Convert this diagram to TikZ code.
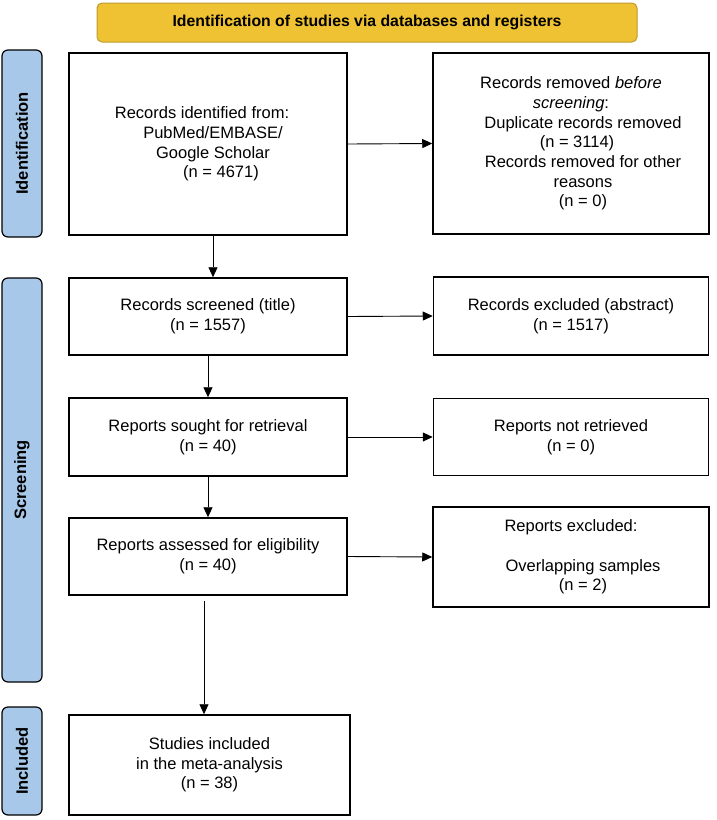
\documentclass[tikz,border=0pt]{standalone}
\usepackage{fontspec}
\setmainfont{Liberation Sans}
\usetikzlibrary{arrows.meta}
\definecolor{headgold}{RGB}{239,194,51}
\definecolor{headedge}{RGB}{190,155,45}
\definecolor{phaseblue}{RGB}{168,200,233}

\begin{document}
\begin{tikzpicture}[x=1pt,y=-1pt,
	box/.style={draw,line width=1.5pt,align=center,inner sep=0pt,font=\fontsize{16.5}{19.7}\selectfont},
	phase/.style={draw,fill=phaseblue,line width=1.2pt,rounded corners=6pt,minimum height=40pt,inner sep=0pt,font=\bfseries\fontsize{16.5}{18}\selectfont,rotate=90},
	arr/.style={-{Triangle[length=10pt,width=9pt]},line width=0.9pt}]
	
	\useasboundingbox (0,0) rectangle (717,820);
	
	% header and phases
	\node[draw=headedge,fill=headgold,line width=1pt,rounded corners=5pt,minimum width=540pt,minimum height=39pt,font=\bfseries\fontsize{15.8}{18}\selectfont] (head) at (367,22.5) {Identification of studies via databases and registers};
	
	\node[phase,minimum width=187pt] (ident) at (22,143.5) {Identification};
	\node[phase,minimum width=404pt] (screen) at (22,480) {Screening};
	\node[phase,minimum width=108pt] (incl) at (22,761) {Included};
	
	% left column
	\node[box,minimum width=278pt,minimum height=182pt] (records) at (208,144) {Records identified from:\hspace*{12pt}\\ \hspace*{10pt}PubMed/EMBASE/\\ \hspace*{10pt}Google Scholar\\ \hspace*{26pt}(n = 4671)};
	\node[box,minimum width=278pt,minimum height=77pt] (screened) at (208,316.5) {Records screened (title)\\ (n = 1557)};
	\node[box,minimum width=278pt,minimum height=78pt] (sought) at (208,437) {Reports sought for retrieval\\ (n = 40)};
	\node[box,minimum width=278pt,minimum height=77pt] (assessed) at (208,556.5) {Reports assessed for eligibility\\ (n = 40)};
	\node[box,minimum width=281pt,minimum height=100pt] (included) at (209.5,765) {Studies included\\ in the meta-analysis\\ (n = 38)};
	
	% right column
	\node[box,minimum width=276pt,minimum height=181pt] (removed) at (571,143.5) {Records removed \textit{before}\\ \textit{screening}:\\ \hspace*{24pt}Duplicate records removed\\ \hspace*{12pt}(n = 3114)\\ \hspace*{24pt}Records removed for other\\ \hspace*{24pt}reasons\\ \hspace*{24pt}(n = 0)};
	\node[box,minimum width=275pt,minimum height=78pt] (excluded) at (571,316) {Records excluded (abstract)\\ (n = 1517)};
	\node[box,minimum width=275pt,minimum height=77pt] (notretr) at (571,437) {Reports not retrieved\\ (n = 0)};
	\node[box,minimum width=276pt,minimum height=100pt] (repexcl) at (571,557) {Reports excluded:\\[19.7pt] \hspace*{24pt}Overlapping samples\\ \hspace*{24pt}(n = 2)};
	
	% arrows
	\draw[arr] ([xshift=5pt]records.south) -- ([xshift=5pt]screened.north);
	\draw[arr] (records.east) -- (removed.west);
	\draw[arr] (screened.east) -- (excluded.west);
	\draw[arr] (screened.south) -- (sought.north);
	\draw[arr] (sought.east) -- (notretr.west);
	\draw[arr] (sought.south) -- (assessed.north);
	\draw[arr] (assessed.east) -- (repexcl.west);
	\draw[arr,shorten <=5pt] ([xshift=-4pt]assessed.south) -- ([xshift=-4pt]assessed.south |- included.north);
	
\end{tikzpicture}
\end{document}
